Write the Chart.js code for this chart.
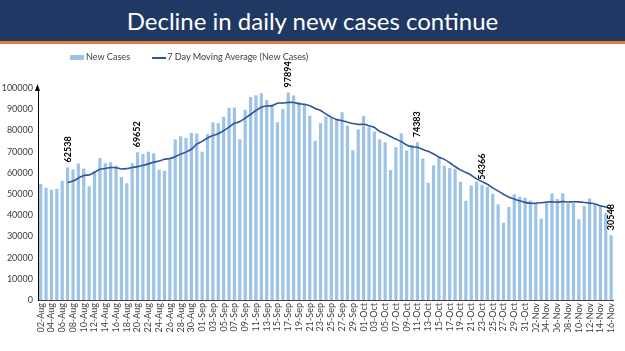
<!DOCTYPE html>
<html>
<head>
<meta charset="utf-8">
<script src="https://cdn.jsdelivr.net/npm/chart.js@4/dist/chart.umd.min.js"></script>
<style>
  html, body { margin: 0; padding: 0; background: #fff; }
  #wrap { position: relative; width: 625px; height: 351px; overflow: hidden; }
  #banner { position: absolute; left: 0; top: 0; width: 625px; height: 41px; background: #1F3864;
            border-bottom: 3px solid #E07B39; color: #fff; font-family: Lato, "Open Sans", sans-serif;
            font-size: 24px; line-height: 41px; text-align: center; }
  #legend { position: absolute; top: 50px; left: 70px; font-family: Lato, "Open Sans", sans-serif;
            font-size: 9.1px; color: #404040; white-space: nowrap; }
  #legend span.item { display: inline-block; vertical-align: middle; }
  .sw-bar { display: inline-block; width: 14px; height: 5px; background: #9DC3E6; vertical-align: middle; margin-right: 2px; }
  .sw-line { display: inline-block; width: 14px; height: 2px; background: #2F5597; vertical-align: middle; margin-right: 1px; }
  canvas { position: absolute; left: 0; top: 0; }
</style>
</head>
<body>
<div id="wrap">
  <canvas id="c" width="625" height="351"></canvas>
  <div id="banner">Decline in daily new cases continue</div>
  <div id="legend"><span class="item"><span class="sw-bar"></span>New Cases</span><span class="item" style="margin-left:22px"><span class="sw-line"></span>7 Day Moving Average (New Cases)</span></div>
</div>
<script>
const dates = [
  "02-Aug","03-Aug","04-Aug","05-Aug","06-Aug","07-Aug","08-Aug","09-Aug","10-Aug","11-Aug",
  "12-Aug","13-Aug","14-Aug","15-Aug","16-Aug","17-Aug","18-Aug","19-Aug","20-Aug","21-Aug",
  "22-Aug","23-Aug","24-Aug","25-Aug","26-Aug","27-Aug","28-Aug","29-Aug","30-Aug","31-Aug",
  "01-Sep","02-Sep","03-Sep","04-Sep","05-Sep","06-Sep","07-Sep","08-Sep","09-Sep","10-Sep",
  "11-Sep","12-Sep","13-Sep","14-Sep","15-Sep","16-Sep","17-Sep","18-Sep","19-Sep","20-Sep",
  "21-Sep","22-Sep","23-Sep","24-Sep","25-Sep","26-Sep","27-Sep","28-Sep","29-Sep","30-Sep",
  "01-Oct","02-Oct","03-Oct","04-Oct","05-Oct","06-Oct","07-Oct","08-Oct","09-Oct","10-Oct",
  "11-Oct","12-Oct","13-Oct","14-Oct","15-Oct","16-Oct","17-Oct","18-Oct","19-Oct","20-Oct",
  "21-Oct","22-Oct","23-Oct","24-Oct","25-Oct","26-Oct","27-Oct","28-Oct","29-Oct","30-Oct",
  "31-Oct","01-Nov","02-Nov","03-Nov","04-Nov","05-Nov","06-Nov","07-Nov","08-Nov","09-Nov",
  "10-Nov","11-Nov","12-Nov","13-Nov","14-Nov","15-Nov","16-Nov"
];
const newCases = [
  54735,52972,52050,52509,56282,62538,61537,64399,62064,53601,
  60963,66999,64553,65002,63490,57981,55079,64531,69652,68898,
  69878,69239,61408,60975,67151,75760,77266,76472,78761,78512,
  69921,78357,83883,83341,86432,90632,90802,75809,89706,95735,
  96551,97570,94372,92071,83809,90123,97894,96424,93337,92605,
  86961,75083,83347,86508,86052,85362,88600,82170,70589,80472,
  86821,81484,79476,75829,74442,61267,72049,78524,70496,73272,
  74383,66732,55342,63509,67708,63371,62212,61871,55722,46790,
  54044,55839,54366,53370,50129,45148,36470,43893,49881,48648,
  48268,46963,45231,38310,46253,50209,47638,50357,45674,45903,
  38073,44281,47905,44879,44684,41100,30548
];
const movingAvg = [
  null,null,null,null,null,55458,56089,57470,58768,58990,
  60198,61729,62017,62512,62382,61798,62010,62519,62898,63519,
  64216,65037,65526,66369,66743,67616,68811,69753,71113,73557,
  74835,76436,77596,78464,79887,81583,83338,84179,85801,87494,
  89381,90972,91506,91688,92831,92890,93199,93180,92576,92323,
  91593,90347,89379,87752,86270,85131,84559,83875,83233,82822,
  82867,82214,81373,79549,78445,77113,75910,74724,73155,72268,
  72062,70960,70114,68894,67349,66331,64751,62964,61391,60169,
  58817,57121,55835,54572,52894,51384,49909,48459,47608,46791,
  46062,45610,45622,45885,46222,46269,46125,46423,46239,46335,
  46301,46019,45690,45296,44486,43832,42800
];
const labelledDays = ["07-Aug","20-Aug","17-Sep","11-Oct","23-Oct","16-Nov"];
const yTicks = [0,10000,20000,30000,40000,50000,60000,70000,80000,90000,100000];

const FONT = 'Lato, "Open Sans", sans-serif';

const extras = {
  id: 'extras',
  afterDatasetsDraw(chart) {
    const ctx = chart.ctx;
    const meta = chart.getDatasetMeta(1); // bar dataset
    ctx.save();
    ctx.fillStyle = '#000';
    ctx.font = 'bold 9px ' + FONT;
    ctx.textAlign = 'left';
    ctx.textBaseline = 'middle';
    labelledDays.forEach(d => {
      const i = dates.indexOf(d);
      const el = meta.data[i];
      ctx.save();
      ctx.translate(el.x, el.y - 5);
      ctx.rotate(-Math.PI / 2);
      ctx.fillText(String(newCases[i]), 0, 0);
      ctx.restore();
    });
    // arrow on y-axis
    const ys = chart.scales.y;
    const x0 = Math.round(ys.right) - 0.5;
    const top = chart.chartArea.top;
    ctx.fillStyle = '#000';
    ctx.beginPath();
    ctx.moveTo(x0, top - 4);
    ctx.lineTo(x0 - 2.5, top + 3);
    ctx.lineTo(x0 + 2.5, top + 3);
    ctx.closePath();
    ctx.fill();
    ctx.restore();
  }
};

new Chart(document.getElementById('c'), {
  data: {
    labels: dates,
    datasets: [
      {
        type: 'line',
        label: '7 Day Moving Average (New Cases)',
        data: movingAvg,
        borderColor: '#2F5597',
        borderWidth: 1.6,
        pointRadius: 0,
        tension: 0.3,
        fill: false,
        order: 0
      },
      {
        type: 'bar',
        label: 'New Cases',
        data: newCases,
        backgroundColor: '#9DC3E6',
        barPercentage: 0.6,
        categoryPercentage: 1.0,
        order: 1
      }
    ]
  },
  options: {
    responsive: false,
    animation: false,
    devicePixelRatio: 1,
    layout: { padding: { top: 88, right: 10, bottom: 19, left: 0 } },
    plugins: { legend: { display: false }, tooltip: { enabled: false } },
    scales: {
      x: {
        offset: true,
        grid: { display: false, drawTicks: false, tickLength: 0 },
        border: { display: true, color: '#404040', width: 1 },
        ticks: {
          autoSkip: false,
          maxRotation: 90,
          minRotation: 90,
          padding: 3,
          color: '#404040',
          font: { family: FONT, size: 9 },
          callback: (v, i) => (i % 2 === 0 ? dates[i] : '')
        },
        afterFit: s => { s.height = 32; }
      },
      y: {
        min: 0,
        max: 100000,
        grid: { display: false, drawTicks: false, tickLength: 0 },
        border: { display: true, color: '#000', width: 1 },
        afterBuildTicks: s => { s.ticks = yTicks.map(v => ({ value: v })); },
        ticks: {
          color: '#404040',
          padding: 5,
          font: { family: FONT, size: 9 },
          callback: v => String(v)
        },
        afterFit: s => { s.width = 38; }
      }
    }
  },
  plugins: [extras]
});
</script>
</body>
</html>
